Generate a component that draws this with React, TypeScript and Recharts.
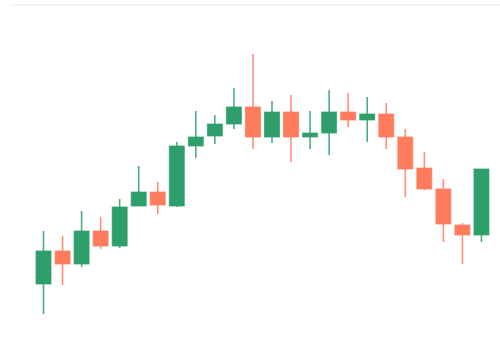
import React from "react";
import { ComposedChart, Bar, XAxis, YAxis } from "recharts";

const days = ["D1","D2","D3","D4","D5","D6","D7","D8","D9","D10","D11","D12","D13","D14","D15","D16","D17","D18","D19","D20","D21","D22","D23","D24"];
const opens = [41, 74, 61, 94, 79, 119, 133, 119, 179, 189, 201, 218, 188, 213, 188, 192, 213, 205, 211, 188, 157, 136, 100, 90];
const closes = [74, 61, 94, 79, 118, 133, 120, 179, 188, 201, 218, 188, 213, 188, 192, 213, 205, 211, 188, 156, 136, 101, 90, 156];
const highs = [94, 89, 114, 108, 126, 159, 143, 183, 214, 210, 237, 271, 224, 230, 214, 235, 232, 228, 222, 196, 173, 146, 102, 156];
const lows = [11, 40, 58, 76, 77, 119, 111, 118, 167, 181, 196, 176, 182, 163, 176, 170, 198, 183, 176, 128, 135, 83, 61, 83];

const UP = "#2E9E6B";
const DOWN = "#FF7B5E";

const data = days.map((d, i) => ({
  day: d,
  open: opens[i],
  close: closes[i],
  high: highs[i],
  low: lows[i],
  range: [lows[i], highs[i]],
}));

const Candle = (props: any) => {
  const { x, y, width, height, payload } = props;
  const top = Math.min(y, y + height);
  const h = Math.abs(height);
  const { open, close, high, low } = payload;
  const ratio = high - low === 0 ? 0 : h / (high - low);
  const bodyTop = top + (high - Math.max(open, close)) * ratio;
  const bodyBottom = top + (high - Math.min(open, close)) * ratio;
  const color = close >= open ? UP : DOWN;
  const cx = x + width / 2;
  return (
    <g>
      <line x1={cx} x2={cx} y1={top} y2={top + h} stroke={color} strokeWidth={1.6} strokeOpacity={0.85} />
      <rect
        x={x}
        y={bodyTop}
        width={width}
        height={Math.max(bodyBottom - bodyTop, 1)}
        fill={color}
        stroke={color}
        strokeOpacity={0.7}
        strokeWidth={1}
      />
    </g>
  );
};

export default function App() {
  return (
    <div style={{ position: "absolute", left: 0, top: 0, width: 500, height: 364, background: "#fff" }}>
      <div style={{ position: "absolute", left: 10, top: 4, width: 490, height: 2, background: "#f3f3f3" }} />
      <ComposedChart
        width={500}
        height={364}
        data={data}
        margin={{ top: 5, right: 9, bottom: 39, left: 34 }}
      >
        <XAxis dataKey="day" hide />
        <YAxis domain={[0, 320]} hide />
        <Bar dataKey="range" barSize={15} shape={<Candle />} isAnimationActive={false} />
      </ComposedChart>
    </div>
  );
}
